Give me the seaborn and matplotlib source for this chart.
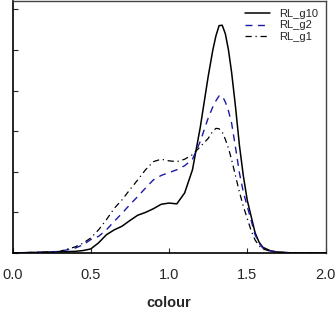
import numpy as np
import pandas as pd
import seaborn as sns
import matplotlib.pyplot as plt

# colour values (x) and density
colour = [0.0, 0.1, 0.2, 0.3, 0.4, 0.45, 0.5, 0.55, 0.6, 0.65, 0.7, 0.75, 0.8, 0.85,
          0.9, 0.95, 1.0, 1.05, 1.1, 1.15, 1.2, 1.25, 1.28, 1.3, 1.32, 1.34, 1.36,
          1.38, 1.4, 1.425, 1.45, 1.475, 1.5, 1.525, 1.55, 1.575, 1.6, 1.65, 1.7,
          1.8, 2.0]
rl_g10 = [0.0, 0.01, 0.02, 0.03, 0.04, 0.06, 0.1, 0.25, 0.45, 0.57, 0.66, 0.8, 0.93, 1.0,
          1.09, 1.2, 1.23, 1.21, 1.48, 2.05, 3.1, 4.34, 5.0, 5.35, 5.6, 5.61, 5.4,
          5.0, 4.45, 3.6, 2.65, 1.9, 1.3, 0.9, 0.5, 0.27, 0.14, 0.05, 0.02,
          0.0, 0.0]
rl_g2 = [0.0, 0.01, 0.02, 0.04, 0.12, 0.2, 0.33, 0.41, 0.57, 0.78, 0.98, 1.19, 1.39, 1.6,
         1.8, 1.91, 1.98, 2.05, 2.15, 2.31, 2.75, 3.32, 3.6, 3.75, 3.87, 3.87, 3.72,
         3.5, 3.2, 2.6, 1.97, 1.5, 1.15, 0.8, 0.45, 0.25, 0.12, 0.05, 0.02,
         0.0, 0.0]
rl_g1 = [0.0, 0.01, 0.02, 0.04, 0.15, 0.24, 0.37, 0.57, 0.82, 1.1, 1.31, 1.56, 1.8, 2.05,
         2.25, 2.31, 2.27, 2.25, 2.31, 2.42, 2.62, 2.82, 3.0, 3.07, 3.06, 2.98, 2.8,
         2.58, 2.3, 1.9, 1.5, 1.15, 0.85, 0.55, 0.32, 0.18, 0.1, 0.04, 0.02,
         0.0, 0.0]

sns.set_style("ticks")
plt.rcParams['font.family'] = ['Liberation Sans', 'DejaVu Sans']

fig = plt.figure(figsize=(3.36, 3.11), dpi=100)
ax = fig.add_axes([12.5 / 336, 1 - 253 / 311, 313 / 336, 252 / 311])

sns.lineplot(x=colour, y=rl_g10, ax=ax, color='black', lw=1.1, label='RL_g10')
sns.lineplot(x=colour, y=rl_g2, ax=ax, color='#1a1aa8', lw=1.0, label='RL_g2',
             linestyle=(0, (5, 4)))
sns.lineplot(x=colour, y=rl_g1, ax=ax, color='black', lw=0.9, label='RL_g1',
             linestyle=(0, (5, 3, 1, 3)))

ax.set_xlim(0, 2.0)
ax.set_ylim(0, 252 / 40.6)
ax.set_xticks([0.0, 0.5, 1.0, 1.5, 2.0])
ax.set_xticklabels(['0.0', '0.5', '1.0', '1.5', '2.0'], fontsize=10.5)
ax.set_yticks(range(7))
ax.set_yticklabels([])
ax.tick_params(direction='in', length=3.5, width=0.8, pad=11)
ax.set_xlabel('colour', fontsize=10.5, fontweight='bold', labelpad=10)
ax.set_ylabel('')
for s in ['left', 'bottom']:
    ax.spines[s].set_linewidth(1.2)
    ax.spines[s].set_color('black')
for s in ['top', 'right']:
    ax.spines[s].set_linewidth(1.0)
    ax.spines[s].set_color('#444444')

ax.legend(loc='upper right', frameon=False, fontsize=8, handlelength=2.2,
          labelspacing=0.15, borderaxespad=0.3, handletextpad=0.8)

fig.savefig('out.png', dpi=100)
